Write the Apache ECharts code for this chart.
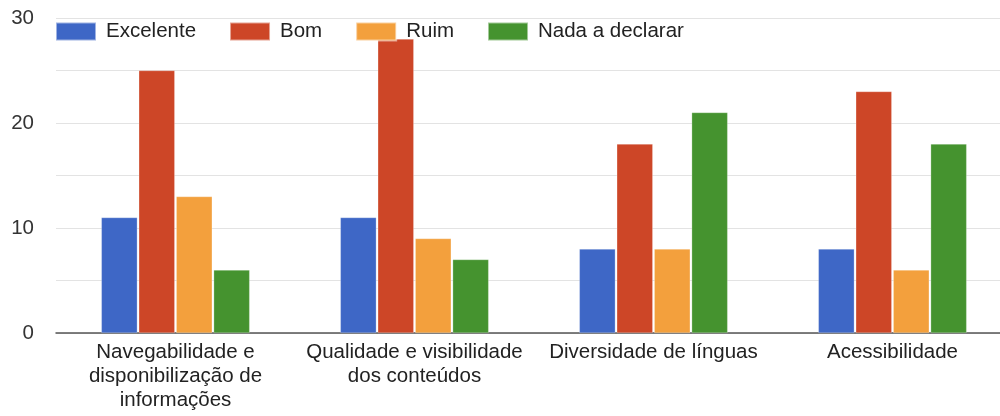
<!DOCTYPE html>
<html><head><meta charset="utf-8">
<script src="https://cdn.jsdelivr.net/npm/echarts@6/dist/echarts.min.js"></script>
<style>html,body{margin:0;padding:0;background:#fff;overflow:hidden;width:1000px;height:416px}#c{width:1012px;height:416px}</style>
</head><body><div id="c"></div>
<script>
const categories = ["Navegabilidade e\ndisponibilização de\ninformações", "Qualidade e visibilidade\ndos conteúdos", "Diversidade de línguas", "Acessibilidade"];
const seriesNames = ["Excelente", "Bom", "Ruim", "Nada a declarar"];
const excelente = [11, 11, 8, 8];
const bom = [25, 28, 18, 23];
const ruim = [13, 9, 8, 6];
const nada = [6, 7, 21, 18];
const yTicks = [0, 10, 20, 30];
const colors = ["#3e67c6", "#cd4627", "#f3a03d", "#45932f"];
const values = [excelente, bom, ruim, nada];

const chart = echarts.init(document.getElementById('c'), null, {renderer: 'canvas'});
const font = 'Liberation Sans, Arial, sans-serif';
chart.setOption({
  animation: false,
  color: colors,
  textStyle: {fontFamily: font},
  legend: {
    left: 55, top: 21, padding: 0, itemWidth: 40, itemHeight: 18, itemGap: 33,
    icon: 'rect',
    textStyle: {fontSize: 20.5, color: '#222', fontFamily: font, padding: [0, 0, 0, 5]},
    data: seriesNames
  },
  grid: {left: 56, top: 18, bottom: 83, right: 0},
  xAxis: {
    type: 'category', data: categories,
    axisLine: {lineStyle: {color: '#555', width: 1.5}},
    axisTick: {show: false},
    axisLabel: {fontSize: 20.5, color: '#222', lineHeight: 24, margin: 7, fontFamily: font, interval: 0}
  },
  yAxis: {
    type: 'value', min: 0, max: 30, interval: 5,
    axisLine: {show: false}, axisTick: {show: false},
    splitLine: {lineStyle: {color: '#e3e3e3', width: 1}},
    axisLabel: {fontSize: 20.5, color: '#333', margin: 22, fontFamily: font,
      formatter: v => yTicks.includes(v) ? String(v) : ''}
  },
  series: seriesNames.map((n, i) => ({
    name: n, type: 'bar', data: values[i], barWidth: 36, barGap: '4%',
    itemStyle: {borderColor: 'rgba(255,255,255,0.5)', borderWidth: 0.5}
  }))
});
</script></body></html>
